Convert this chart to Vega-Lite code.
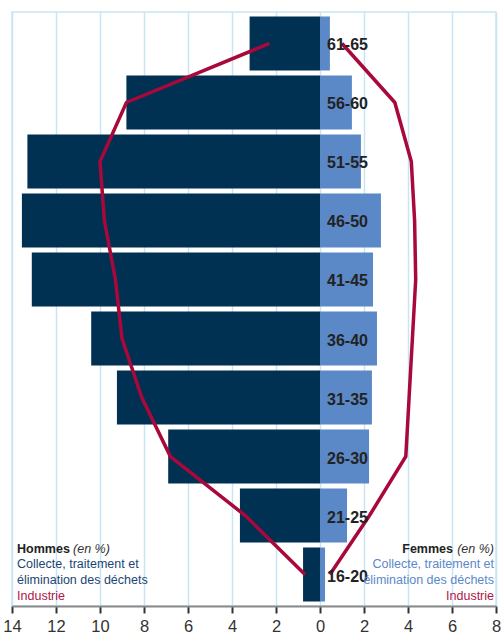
{
  "$schema": "https://vega.github.io/schema/vega-lite/v6.json",
  "width": 484,
  "height": 594,
  "autosize": {"type": "none"},
  "padding": {"left": 12, "top": 12, "right": 5, "bottom": 34},
  "config": {
    "view": {"stroke": "#c9e5f5", "strokeWidth": 1.5},
    "font": "Liberation Sans",
    "text": {"font": "Liberation Sans", "lineBreak": "\n"}
  },
  "datasets": {
    "pyr": [
      {"age": "61-65", "hommes": -3.2, "femmes": 0.45, "ind_h": -2.3, "ind_f": 1.0},
      {"age": "56-60", "hommes": -8.8, "femmes": 1.45, "ind_h": -8.8, "ind_f": 3.4},
      {"age": "51-55", "hommes": -13.3, "femmes": 1.86, "ind_h": -10.0, "ind_f": 4.15},
      {"age": "46-50", "hommes": -13.55, "femmes": 2.77, "ind_h": -9.8, "ind_f": 4.3},
      {"age": "41-45", "hommes": -13.1, "femmes": 2.41, "ind_h": -9.3, "ind_f": 4.35},
      {"age": "36-40", "hommes": -10.4, "femmes": 2.59, "ind_h": -9.0, "ind_f": 4.2},
      {"age": "31-35", "hommes": -9.23, "femmes": 2.36, "ind_h": -8.1, "ind_f": 4.05},
      {"age": "26-30", "hommes": -6.9, "femmes": 2.23, "ind_h": -6.8, "ind_f": 3.9},
      {"age": "21-25", "hommes": -3.64, "femmes": 1.23, "ind_h": -3.4, "ind_f": 2.25},
      {"age": "16-20", "hommes": -0.77, "femmes": 0.23, "ind_h": -0.68, "ind_f": 0.45}
    ],
    "leg": [
      {"side": "H", "k": "t", "txt": "Hommes", "x": -13.77},
      {"side": "H", "k": "i", "txt": "(en %)", "x": -13.77},
      {"side": "H", "k": "c", "txt": "Collecte, traitement et\nélimination des déchets", "x": -13.77},
      {"side": "H", "k": "r", "txt": "Industrie", "x": -13.77},
      {"side": "F", "k": "t", "txt": "Femmes", "x": 7.91},
      {"side": "F", "k": "i", "txt": "(en %)", "x": 7.91},
      {"side": "F", "k": "c", "txt": "Collecte, traitement et\nélimination des déchets", "x": 7.91},
      {"side": "F", "k": "r", "txt": "Industrie", "x": 7.91}
    ]
  },
  "data": {"name": "pyr"},
  "encoding": {
    "y": {
      "field": "age", "type": "nominal",
      "scale": {
        "domain": ["61-65", "56-60", "51-55", "46-50", "41-45", "36-40", "31-35", "26-30", "21-25", "16-20"],
        "paddingInner": 0.085, "paddingOuter": 0.076
      },
      "axis": null
    }
  },
  "layer": [
    {
      "mark": {"type": "bar", "color": "#003052"},
      "encoding": {
        "x": {
          "field": "hommes", "type": "quantitative",
          "scale": {"domain": [-14, 8], "nice": false, "zero": false},
          "axis": {
            "values": [-14, -12, -10, -8, -6, -4, -2, 0, 2, 4, 6, 8],
            "labelExpr": "abs(datum.value)",
            "title": null,
            "grid": true, "gridColor": "#c9e5f5", "gridWidth": 1.5,
            "domainColor": "#8a8a8a", "domainWidth": 2,
            "tickColor": "#333333", "tickSize": 7, "tickWidth": 2,
            "labelFont": "Liberation Sans", "labelFontSize": 16.5, "labelColor": "#333333",
            "labelPadding": 5, "labelFlush": false
          }
        },
        "x2": {"datum": 0},
        "y": {
          "field": "age", "type": "nominal",
          "axis": {
            "orient": "right", "offset": -176, "labels": false, "domain": false, "grid": false,
            "ticks": true, "tickColor": "#a8d4ef", "tickSize": 4, "tickWidth": 1.5,
            "bandPosition": 0, "tickOffset": -2.5, "title": null
          }
        }
      }
    },
    {
      "mark": {"type": "bar", "color": "#5b88c6"},
      "encoding": {
        "x": {"field": "femmes", "type": "quantitative"},
        "x2": {"datum": 0}
      }
    },
    {
      "mark": {"type": "line", "color": "#a8083a", "strokeWidth": 3.5, "strokeJoin": "miter"},
      "encoding": {
        "x": {"field": "ind_h", "type": "quantitative"},
        "order": {"field": "age", "type": "ordinal"}
      }
    },
    {
      "mark": {"type": "line", "color": "#a8083a", "strokeWidth": 3.5, "strokeJoin": "miter"},
      "encoding": {
        "x": {"field": "ind_f", "type": "quantitative"},
        "order": {"field": "age", "type": "ordinal"}
      }
    },
    {
      "mark": {"type": "text", "align": "left", "baseline": "middle", "dx": 7, "dy": 2, "fontSize": 16, "fontWeight": "bold", "color": "#222222"},
      "encoding": {
        "x": {"datum": 0, "type": "quantitative"},
        "text": {"field": "age"}
      }
    },
    {
      "data": {"name": "leg"},
      "transform": [{"filter": "datum.side == 'H' && datum.k == 't'"}],
      "mark": {"type": "text", "align": "left", "baseline": "alphabetic", "dy": -22, "fontSize": 12.5, "fontWeight": "bold", "color": "#222222"},
      "encoding": {"x": {"field": "x", "type": "quantitative"}, "y": {"datum": "16-20"}, "text": {"field": "txt"}}
    },
    {
      "data": {"name": "leg"},
      "transform": [{"filter": "datum.side == 'H' && datum.k == 'i'"}],
      "mark": {"type": "text", "align": "left", "baseline": "alphabetic", "dx": 56, "dy": -22, "fontSize": 12.5, "fontStyle": "italic", "color": "#333333"},
      "encoding": {"x": {"field": "x", "type": "quantitative"}, "y": {"datum": "16-20"}, "text": {"field": "txt"}}
    },
    {
      "data": {"name": "leg"},
      "transform": [{"filter": "datum.side == 'H' && datum.k == 'c'"}],
      "mark": {"type": "text", "align": "left", "baseline": "alphabetic", "dy": -7, "fontSize": 12.5, "lineHeight": 16.5, "color": "#1a4673"},
      "encoding": {"x": {"field": "x", "type": "quantitative"}, "y": {"datum": "16-20"}, "text": {"field": "txt"}}
    },
    {
      "data": {"name": "leg"},
      "transform": [{"filter": "datum.side == 'H' && datum.k == 'r'"}],
      "mark": {"type": "text", "align": "left", "baseline": "alphabetic", "dy": 25, "fontSize": 12.5, "color": "#b0164a"},
      "encoding": {"x": {"field": "x", "type": "quantitative"}, "y": {"datum": "16-20"}, "text": {"field": "txt"}}
    },
    {
      "data": {"name": "leg"},
      "transform": [{"filter": "datum.side == 'F' && datum.k == 't'"}],
      "mark": {"type": "text", "align": "right", "baseline": "alphabetic", "dx": -41, "dy": -22, "fontSize": 12.5, "fontWeight": "bold", "color": "#222222"},
      "encoding": {"x": {"field": "x", "type": "quantitative"}, "y": {"datum": "16-20"}, "text": {"field": "txt"}}
    },
    {
      "data": {"name": "leg"},
      "transform": [{"filter": "datum.side == 'F' && datum.k == 'i'"}],
      "mark": {"type": "text", "align": "right", "baseline": "alphabetic", "dy": -22, "fontSize": 12.5, "fontStyle": "italic", "color": "#333333"},
      "encoding": {"x": {"field": "x", "type": "quantitative"}, "y": {"datum": "16-20"}, "text": {"field": "txt"}}
    },
    {
      "data": {"name": "leg"},
      "transform": [{"filter": "datum.side == 'F' && datum.k == 'c'"}],
      "mark": {"type": "text", "align": "right", "baseline": "alphabetic", "dy": -7, "fontSize": 12.5, "lineHeight": 16.5, "color": "#5b88c6"},
      "encoding": {"x": {"field": "x", "type": "quantitative"}, "y": {"datum": "16-20"}, "text": {"field": "txt"}}
    },
    {
      "data": {"name": "leg"},
      "transform": [{"filter": "datum.side == 'F' && datum.k == 'r'"}],
      "mark": {"type": "text", "align": "right", "baseline": "alphabetic", "dy": 25, "fontSize": 12.5, "color": "#b0164a"},
      "encoding": {"x": {"field": "x", "type": "quantitative"}, "y": {"datum": "16-20"}, "text": {"field": "txt"}}
    }
  ]
}
